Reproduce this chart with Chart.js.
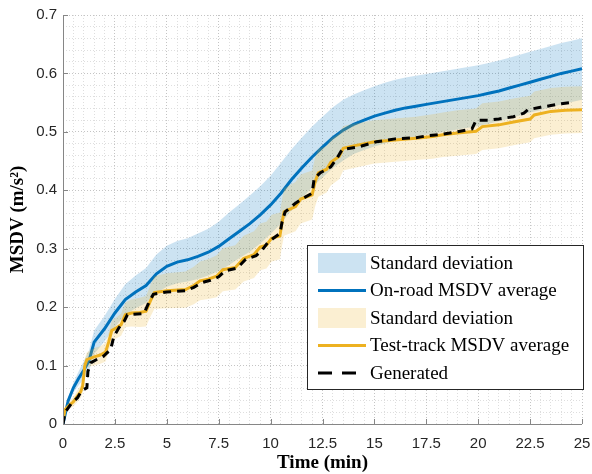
<!DOCTYPE html>
<html>
<head>
<meta charset="utf-8">
<script src="https://cdn.jsdelivr.net/npm/chart.js@4.4.0/dist/chart.umd.min.js"></script>
<style>
  html, body { margin: 0; padding: 0; background: #fff; }
  #wrap { width: 592px; height: 474px; }
</style>
</head>
<body>
<div id="wrap"><canvas id="msdvChart" width="592" height="474"></canvas></div>
<script>
// MSDV over time: on-road vs test-track averages with std bands, plus generated curve

const onroadTime = [0, 0.25, 0.5, 0.75, 1, 1.25, 1.5, 2, 2.5, 3, 3.5, 4, 4.5, 5, 5.5, 6, 6.5, 7, 7.5, 8, 8.5, 9, 9.5, 10,
    10.5, 11, 11.5, 12, 12.5, 13, 13.5, 14, 14.5, 15, 15.5, 16, 16.5, 17, 17.5, 18, 18.5, 19, 19.5, 20,
    20.5, 21, 21.5, 22, 22.5, 23, 23.5, 24, 24.5, 25];
const onroadMean = [0, 0.04, 0.062, 0.078, 0.092, 0.108, 0.14, 0.163, 0.19, 0.213, 0.226, 0.237, 0.257, 0.27, 0.277, 0.281,
    0.287, 0.294, 0.304, 0.317, 0.33, 0.343, 0.358, 0.375, 0.395, 0.418, 0.438, 0.457, 0.474, 0.49, 0.503, 0.513,
    0.52, 0.527, 0.532, 0.537, 0.541, 0.544, 0.547, 0.55, 0.553, 0.556, 0.559, 0.562, 0.566, 0.57, 0.575, 0.58,
    0.585, 0.59, 0.595, 0.6, 0.604, 0.608];
const onroadUpper = [0, 0.045, 0.07, 0.09, 0.107, 0.126, 0.16, 0.185, 0.214, 0.239, 0.254, 0.267, 0.29, 0.305, 0.313, 0.318,
    0.326, 0.334, 0.346, 0.362, 0.376, 0.391, 0.407, 0.425, 0.447, 0.47, 0.49, 0.509, 0.526, 0.542, 0.555, 0.564,
    0.571, 0.578, 0.584, 0.589, 0.593, 0.596, 0.599, 0.602, 0.605, 0.608, 0.611, 0.614, 0.618, 0.622, 0.627, 0.632,
    0.637, 0.642, 0.647, 0.652, 0.656, 0.66];
const onroadLower = [0, 0.035, 0.054, 0.066, 0.077, 0.09, 0.12, 0.141, 0.166, 0.187, 0.198, 0.207, 0.224, 0.235, 0.241, 0.244,
    0.248, 0.254, 0.262, 0.272, 0.284, 0.295, 0.309, 0.325, 0.343, 0.366, 0.386, 0.405, 0.422, 0.438, 0.451, 0.462,
    0.469, 0.475, 0.48, 0.485, 0.489, 0.492, 0.495, 0.498, 0.501, 0.504, 0.507, 0.51, 0.514, 0.518, 0.523, 0.528,
    0.533, 0.537, 0.542, 0.547, 0.551, 0.555];

const trackTime = [0, 0.1, 0.3, 0.5, 0.7, 0.85, 0.95, 1.05, 1.15, 1.5, 1.8, 2.05, 2.2, 2.35, 2.6, 2.8, 3.0, 3.3, 3.7, 4.0,
    4.2, 4.4, 5.0, 5.9, 6.3, 6.6, 7.0, 7.4, 7.7, 8.3, 8.7, 9.2, 9.5, 9.8, 10.05, 10.45, 10.55, 10.65, 11.2, 11.45,
    12.0, 12.15, 12.3, 12.7, 12.9, 13.3, 13.5, 14, 15, 16, 17, 17.8, 18.3, 19, 19.9, 20.2, 21, 21.7, 22.5, 22.7,
    23.5, 24.2, 25];
const trackMean = [0.005, 0.025, 0.032, 0.038, 0.048, 0.055, 0.065, 0.1, 0.11, 0.115, 0.118, 0.123, 0.14, 0.16, 0.165, 0.17,
    0.187, 0.19, 0.191, 0.193, 0.21, 0.225, 0.228, 0.23, 0.237, 0.245, 0.248, 0.253, 0.264, 0.268, 0.283, 0.29,
    0.303, 0.306, 0.318, 0.322, 0.345, 0.363, 0.372, 0.385, 0.392, 0.415, 0.43, 0.436, 0.448, 0.458, 0.472, 0.476,
    0.483, 0.486, 0.489, 0.492, 0.495, 0.498, 0.501, 0.509, 0.512, 0.517, 0.522, 0.529, 0.535, 0.537, 0.538];
const trackUpper = [0.005, 0.028, 0.038, 0.046, 0.058, 0.066, 0.077, 0.112, 0.123, 0.13, 0.133, 0.139, 0.156, 0.177, 0.183, 0.189,
    0.208, 0.213, 0.216, 0.219, 0.237, 0.253, 0.258, 0.261, 0.269, 0.278, 0.282, 0.289, 0.301, 0.306, 0.322, 0.33,
    0.343, 0.346, 0.358, 0.362, 0.385, 0.404, 0.414, 0.427, 0.434, 0.457, 0.471, 0.476, 0.488, 0.497, 0.51, 0.514,
    0.52, 0.523, 0.526, 0.53, 0.533, 0.537, 0.54, 0.549, 0.552, 0.557, 0.562, 0.569, 0.575, 0.577, 0.578];
const trackLower = [0.005, 0.022, 0.026, 0.03, 0.038, 0.044, 0.053, 0.088, 0.097, 0.1, 0.103, 0.107, 0.124, 0.143, 0.147, 0.151,
    0.166, 0.167, 0.166, 0.167, 0.183, 0.197, 0.198, 0.199, 0.205, 0.212, 0.214, 0.217, 0.227, 0.23, 0.244, 0.25,
    0.263, 0.266, 0.278, 0.282, 0.305, 0.322, 0.33, 0.343, 0.35, 0.373, 0.389, 0.396, 0.408, 0.419, 0.434, 0.438,
    0.446, 0.449, 0.452, 0.454, 0.457, 0.459, 0.462, 0.469, 0.472, 0.477, 0.482, 0.489, 0.495, 0.497, 0.498];

const genTime = [0, 0.1, 0.4, 0.7, 0.9, 1.15, 1.2, 1.35, 1.6, 1.95, 2.3, 2.45, 2.7, 2.95, 3.1, 3.9, 4.1, 4.35, 5, 5.9,
    6.3, 6.7, 7.1, 7.5, 7.8, 8.4, 8.8, 9.3, 9.6, 9.85, 10.1, 10.45, 10.55, 10.7, 11.2, 11.5, 12.0, 12.1, 12.4, 12.9,
    13.2, 13.45, 14.2, 15.1, 16, 17, 17.5, 18.3, 19, 19.7, 19.9, 20.5, 21, 21.7, 22.2, 22.4, 23, 23.5, 24, 24.4];
const genValue = [0, 0.02, 0.035, 0.045, 0.057, 0.062, 0.09, 0.105, 0.11, 0.116, 0.128, 0.15, 0.165, 0.176, 0.187, 0.189,
    0.205, 0.222, 0.226, 0.228, 0.234, 0.242, 0.246, 0.252, 0.262, 0.267, 0.282, 0.288, 0.298, 0.31, 0.317, 0.326,
    0.345, 0.363, 0.378, 0.385, 0.395, 0.42, 0.43, 0.44, 0.455, 0.47, 0.474, 0.483, 0.488, 0.49, 0.493, 0.496,
    0.5, 0.505, 0.52, 0.52, 0.522, 0.526, 0.532, 0.538, 0.542, 0.545, 0.548, 0.55];

const legendLabels = ['Standard deviation', 'On-road MSDV average', 'Standard deviation', 'Test-track MSDV average', 'Generated'];

const BLUE = '#0072BD';
const BLUE_FILL = 'rgba(0,114,189,0.2)';
const ORANGE = '#EDB120';
const ORANGE_FILL = 'rgba(237,177,32,0.2)';
const AXIS_COLOR = '#868686';

function pts(xs, ys) {
    return xs.map((x, i) => ({ x: x, y: ys[i] }));
}

function isMultiple(v, step) {
    const r = v / step;
    return Math.abs(r - Math.round(r)) < 1e-6;
}

// axis lines + inward ticks, drawn on top like MATLAB
const axesPlugin = {
    id: 'axesPlugin',
    afterDatasetsDraw(chart) {
        const ctx = chart.ctx;
        const a = chart.chartArea;
        const xs = chart.scales.x, ys = chart.scales.y;
        ctx.save();
        ctx.strokeStyle = AXIS_COLOR;
        ctx.lineWidth = 1;
        ctx.beginPath();
        ctx.moveTo(a.left + 0.5, a.top);
        ctx.lineTo(a.left + 0.5, a.bottom + 0.5);
        ctx.lineTo(a.right, a.bottom + 0.5);
        ctx.stroke();
        ctx.beginPath();
        for (let t = 0; t <= 25 + 1e-9; t += 2.5) {
            const px = Math.round(xs.getPixelForValue(t)) + 0.5;
            ctx.moveTo(px, a.bottom);
            ctx.lineTo(px, a.bottom - 5);
        }
        for (let k = 0; k <= 7; k++) {
            const py = Math.round(ys.getPixelForValue(k / 10)) + 0.5;
            ctx.moveTo(a.left, py);
            ctx.lineTo(a.left + 5, py);
        }
        ctx.stroke();
        ctx.restore();
    },
    afterDraw(chart) {
        // legend box inside the plot, lower right
        const ctx = chart.ctx;
        const bx = 307, by = 245, bw = 276, bh = 144;
        ctx.save();
        ctx.fillStyle = '#fff';
        ctx.fillRect(bx, by, bw, bh);
        ctx.strokeStyle = '#262626';
        ctx.lineWidth = 1;
        ctx.strokeRect(bx + 0.5, by + 0.5, bw, bh);
        const kinds = [
            { type: 'patch', color: BLUE_FILL },
            { type: 'line', color: BLUE },
            { type: 'patch', color: ORANGE_FILL },
            { type: 'line', color: ORANGE },
            { type: 'dash', color: '#000' }
        ];
        ctx.font = '19px "Liberation Serif", "Times New Roman", serif';
        ctx.textBaseline = 'middle';
        legendLabels.forEach((label, i) => {
            const cy = 263 + i * 27.5;
            const k = kinds[i];
            if (k.type === 'patch') {
                ctx.fillStyle = k.color;
                ctx.fillRect(318, cy - 10, 48, 20);
            } else {
                ctx.strokeStyle = k.color;
                ctx.lineWidth = 3;
                ctx.setLineDash(k.type === 'dash' ? [14, 10] : []);
                ctx.beginPath();
                ctx.moveTo(318, cy);
                ctx.lineTo(366, cy);
                ctx.stroke();
                ctx.setLineDash([]);
            }
            ctx.fillStyle = '#000';
            ctx.fillText(label, 370, cy + 1);
        });
        ctx.restore();
    }
};

const lineBase = { pointRadius: 0, tension: 0, fill: false };

const ctx = document.getElementById('msdvChart');
new Chart(ctx, {
    type: 'line',
    data: {
        // reversed order: Chart.js paints dataset 0 last (on top)
        datasets: [
            Object.assign({ label: 'Generated', data: pts(genTime, genValue), borderColor: '#000',
                borderWidth: 3, borderDash: [8, 6] }, lineBase),
            Object.assign({ label: 'Test-track MSDV average', data: pts(trackTime, trackMean), borderColor: ORANGE,
                borderWidth: 3 }, lineBase),
            Object.assign({}, lineBase, { label: 'Test-track upper', data: pts(trackTime, trackUpper), borderWidth: 0,
                borderColor: 'rgba(0,0,0,0)', backgroundColor: ORANGE_FILL, fill: '+1' }),
            Object.assign({ label: 'Test-track lower', data: pts(trackTime, trackLower), borderWidth: 0,
                borderColor: 'rgba(0,0,0,0)' }, lineBase),
            Object.assign({ label: 'On-road MSDV average', data: pts(onroadTime, onroadMean), borderColor: BLUE,
                borderWidth: 3 }, lineBase),
            Object.assign({}, lineBase, { label: 'On-road upper', data: pts(onroadTime, onroadUpper), borderWidth: 0,
                borderColor: 'rgba(0,0,0,0)', backgroundColor: BLUE_FILL, fill: '+1' }),
            Object.assign({ label: 'On-road lower', data: pts(onroadTime, onroadLower), borderWidth: 0,
                borderColor: 'rgba(0,0,0,0)' }, lineBase)
        ]
    },
    options: {
        responsive: false,
        animation: false,
        layout: { padding: { top: 15, right: 10, left: 0, bottom: 0 } },
        plugins: {
            legend: { display: false },
            tooltip: { enabled: false },
            filler: { propagate: false }
        },
        scales: {
            x: {
                type: 'linear',
                min: 0,
                max: 25,
                afterFit: (scale) => { scale.height = 50; scale.paddingRight = 0; scale.paddingLeft = 0; },
                border: { display: false, dash: [1, 2] },
                grid: {
                    drawTicks: false,
                    color: (c) => isMultiple(c.tick.value, 2.5) ? '#c4c4c4' : '#dedede',
                    lineWidth: 1
                },
                ticks: {
                    stepSize: 0.5,
                    autoSkip: false,
                    maxRotation: 0,
                    padding: 11,
                    color: '#262626',
                    font: { family: '"Liberation Sans", Arial, sans-serif', size: 15 },
                    callback: (v) => isMultiple(v, 2.5) ? String(Number(v.toFixed(1))) : ''
                },
                title: {
                    display: true,
                    text: 'Time (min)',
                    color: '#000',
                    padding: { top: 0, bottom: 0 },
                    font: { family: '"Liberation Serif", "Times New Roman", serif', size: 19, weight: 'bold' }
                }
            },
            y: {
                min: 0,
                max: 0.7,
                afterFit: (scale) => { scale.width = 63; scale.paddingTop = 0; scale.paddingBottom = 0; },
                border: { display: false, dash: [1, 2] },
                grid: {
                    drawTicks: false,
                    color: (c) => isMultiple(c.tick.value, 0.1) ? '#c4c4c4' : '#dedede',
                    lineWidth: 1
                },
                ticks: {
                    stepSize: 0.02,
                    autoSkip: false,
                    padding: 6,
                    color: '#262626',
                    font: { family: '"Liberation Sans", Arial, sans-serif', size: 15 },
                    callback: (v) => isMultiple(v, 0.1) ? String(Number(v.toFixed(1))) : ''
                },
                title: {
                    display: true,
                    text: 'MSDV (m/s²)',
                    color: '#000',
                    padding: { top: 7, bottom: 0 },
                    font: { family: '"Liberation Serif", "Times New Roman", serif', size: 19, weight: 'bold' }
                }
            }
        }
    },
    plugins: [axesPlugin]
});
</script>
</body>
</html>
